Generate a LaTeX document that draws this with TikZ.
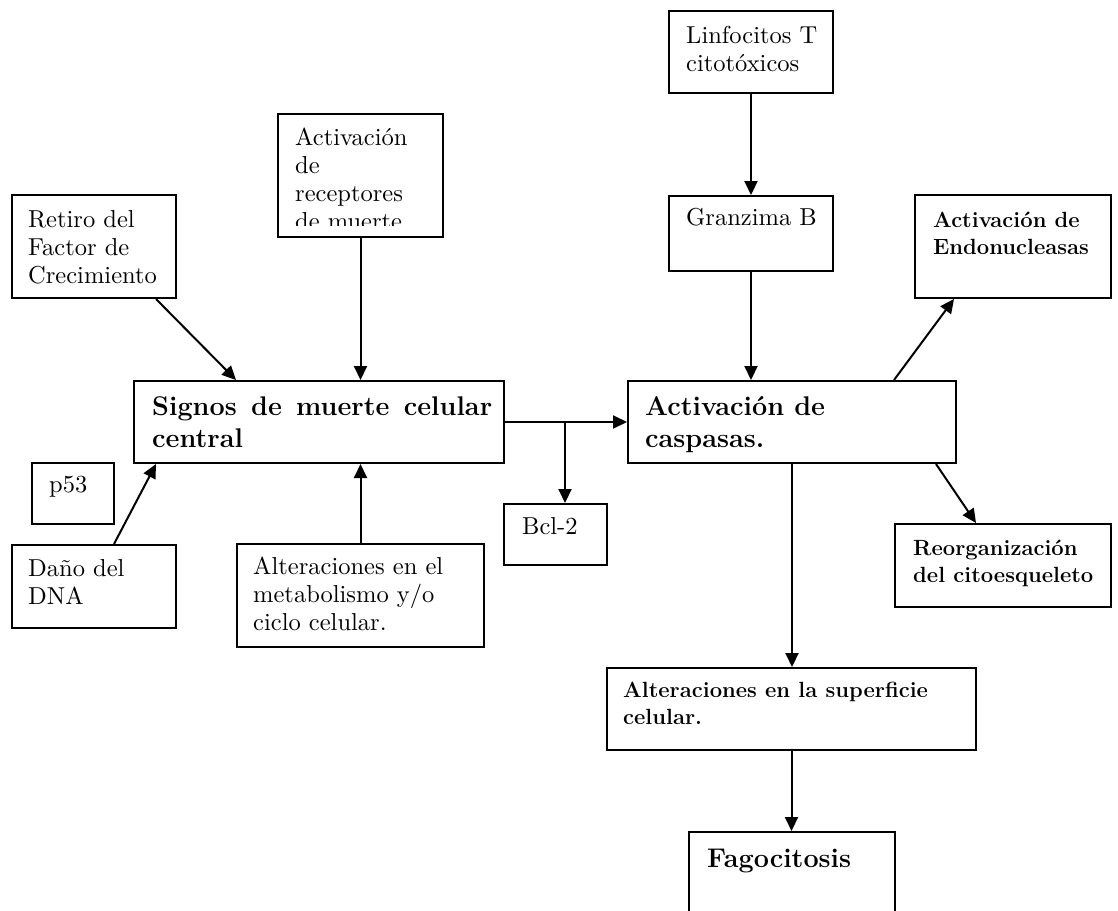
\documentclass[tikz,border=0pt]{standalone}
\usepackage{fontspec}
\setmainfont{lmroman10-regular.otf}[BoldFont=lmroman12-bold.otf]
\usetikzlibrary{arrows.meta,calc}
\newcommand\normtxt{\fontsize{24.5}{28}\selectfont}
\newcommand\bigbold{\fontsize{27}{32}\selectfont\bfseries}
\newcommand\smallbold{\fontsize{22}{27}\selectfont\bfseries}
\tikzset{
  box/.style={draw, line width=2pt, rectangle, inner sep=0pt, anchor=north west},
  txt/.style={anchor=north west, inner sep=0pt, align=left},
  arr/.style={line width=2pt, -{Triangle[length=14pt,width=13pt]}}
}
\begin{document}
\begin{tikzpicture}[x=1pt,y=-1pt]
\useasboundingbox (0,0) rectangle (1118,910);
\clip (0,0) rectangle (1118,910);
% boxes
\node[box, minimum width=164pt, minimum height=82pt]  (linfo)  at (668,10)  {};
\node[box, minimum width=164pt, minimum height=75pt]  (granz)  at (668,195) {};
\node[box, minimum width=164pt, minimum height=103pt] (retiro) at (11,194)  {};
\node[box, minimum width=165pt, minimum height=123pt] (recep)  at (277,113) {};
\node[box, minimum width=370pt, minimum height=82pt]  (signos) at (133,380) {};
\node[box, minimum width=82pt,  minimum height=61pt]  (p53)    at (31,462)  {};
\node[box, minimum width=164pt, minimum height=83pt]  (dano)   at (11,544)  {};
\node[box, minimum width=247pt, minimum height=103pt] (metab)  at (236,543) {};
\node[box, minimum width=103pt, minimum height=61pt]  (bcl)    at (503,503) {};
\node[box, minimum width=328pt, minimum height=82pt]  (casp)   at (627,380) {};
\node[box, minimum width=196pt, minimum height=103pt] (endo)   at (914,194) {};
\node[box, minimum width=216pt, minimum height=83pt]  (reorg)  at (894,523) {};
\node[box, minimum width=369pt, minimum height=82pt]  (superf) at (606,667) {};
\node[box, minimum width=206pt, minimum height=94pt]  (fago)   at (688,831) {};
% texts
\node[txt, font=\normtxt] at ([shift={(18,13.4)}]linfo.north west) {\strut Linfocitos T\\citotóxicos};
\node[txt, font=\normtxt] at ([shift={(18,11)}]granz.north west) {\strut Granzima B};
\node[txt, font=\normtxt] at ([shift={(17,13.4)}]retiro.north west) {\strut Retiro del\\Factor de\\Crecimiento};
\begin{scope}
  \clip (277,113) rectangle (442,225);
  \node[txt, font=\normtxt] at ([shift={(18,12.4)}]recep.north west) {\strut Activación\\de\\receptores\\de muerte};
\end{scope}
\node[txt, font=\bigbold, text width=340pt, align=justify] at ([shift={(19,12.6)}]signos.north west) {\strut Signos de muerte celular central};
\node[txt, font=\normtxt] at ([shift={(18,10.4)}]p53.north west) {\strut p53};
\node[txt, font=\normtxt] at ([shift={(17,12.4)}]dano.north west) {\strut Daño del\\DNA};
\node[txt, font=\normtxt] at ([shift={(17,11.4)}]metab.north west) {\strut Alteraciones en el\\metabolismo y/o\\ciclo celular.};
\node[txt, font=\normtxt] at ([shift={(19,11.4)}]bcl.north west) {\strut Bcl-2};
\node[txt, font=\bigbold] at ([shift={(18,12.6)}]casp.north west) {\strut Activación de\\caspasas.};
\node[txt, font=\smallbold] at ([shift={(19,14.1)}]endo.north west) {\strut Activación de\\Endonucleasas};
\node[txt, font=\smallbold] at ([shift={(19,13.1)}]reorg.north west) {\strut Reorganización\\del citoesqueleto};
\node[txt, font=\smallbold] at ([shift={(17,11.1)}]superf.north west) {\strut Alteraciones en la superficie\\celular.};
\node[txt, font=\bigbold] at ([shift={(19,13.6)}]fago.north west) {\strut Fagocitosis};
% connectors
\draw[arr] ([xshift=62pt]retiro.south) -- ([xshift=-83pt]signos.north);
\draw[arr] (recep.south) -- (recep.south |- signos.north);
\draw[arr] ([xshift=20pt]dano.north) -- ([xshift=-163pt]signos.south);
\draw[arr] (metab.north) -- (metab.north |- signos.south);
\draw[arr] (signos.east) -- (casp.west);
\coordinate (br) at (565,421);
\draw[arr] (br) -- (br |- bcl.north);
\draw[arr] (linfo.south) -- (granz.north);
\draw[arr] (granz.south) -- (granz.south |- casp.north);
\draw[arr] ([xshift=102pt]casp.north) -- ([xshift=-59pt]endo.south);
\draw[arr] ([xshift=144pt]casp.south) -- ([xshift=-27pt]reorg.north);
\draw[arr] (casp.south) -- (casp.south |- superf.north);
\draw[arr] (superf.south) -- (superf.south |- fago.north);
\end{tikzpicture}
\end{document}
